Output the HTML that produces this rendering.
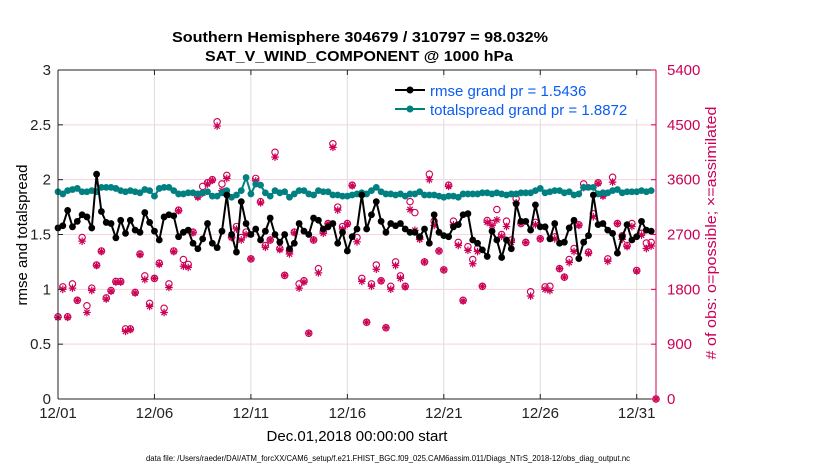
<!DOCTYPE html>
<html><head><meta charset="utf-8"><style>
html,body{margin:0;padding:0;background:#fff;}
svg{display:block;font-family:"Liberation Sans",sans-serif;}
</style></head><body>
<svg id="chart" width="830" height="470" viewBox="0 0 830 470">
  <text x="360" y="42" text-anchor="middle" font-size="15" font-weight="bold" textLength="376" lengthAdjust="spacingAndGlyphs">Southern Hemisphere 304679 / 310797 = 98.032%</text>
  <text x="359" y="61" text-anchor="middle" font-size="15" font-weight="bold" textLength="308" lengthAdjust="spacingAndGlyphs">SAT_V_WIND_COMPONENT @ 1000 hPa</text>
  <g id="grid"></g>
  <g id="marks"></g>
  <g id="axes"></g>
  <text transform="translate(27,235) rotate(-90)" text-anchor="middle" font-size="15">rmse and totalspread</text>
  <text transform="translate(716,233) rotate(-90)" text-anchor="middle" font-size="15" fill="#cc0055" textLength="253" lengthAdjust="spacingAndGlyphs"># of obs: o=possible; ×=assimilated</text>
  <text x="357" y="441" text-anchor="middle" font-size="15">Dec.01,2018 00:00:00 start</text>
  <text x="146" y="461" text-anchor="start" font-size="8.5" textLength="484" lengthAdjust="spacingAndGlyphs">data file: /Users/raeder/DAI/ATM_forcXX/CAM6_setup/f.e21.FHIST_BGC.f09_025.CAM6assim.011/Diags_NTrS_2018-12/obs_diag_output.nc</text>
  <g>
    <rect x="390" y="78" width="263" height="41" fill="#fff"/>
    <g>
      <line x1="395" y1="90" x2="425" y2="90" stroke="#000" stroke-width="2"/>
      <circle cx="410" cy="90" r="3.5" fill="#000"/>
      <text x="430" y="96" font-size="15" fill="#0a5cf5">rmse grand pr = 1.5436</text>
    </g>
    <g>
      <line x1="395" y1="109" x2="425" y2="109" stroke="#008080" stroke-width="2"/>
      <circle cx="410" cy="109" r="3.5" fill="#008080"/>
      <text x="430" y="115" font-size="15" fill="#0a5cf5">totalspread grand pr = 1.8872</text>
    </g>
  </g>
</svg>
<script>
const rmse=[1.56,1.58,1.72,1.57,1.62,1.68,1.66,1.56,2.05,1.71,1.61,1.60,1.47,1.63,1.51,1.63,1.54,1.52,1.70,1.61,1.53,1.45,1.66,1.68,1.67,1.48,1.52,1.54,1.42,1.37,1.46,1.60,1.42,1.38,1.53,1.86,1.50,1.34,1.80,1.60,1.50,1.55,1.45,1.53,1.65,1.50,1.43,1.50,1.37,1.42,1.60,1.53,1.50,1.65,1.63,1.55,1.57,1.60,1.42,1.52,1.35,1.48,1.55,1.86,1.55,1.68,1.80,1.62,1.52,1.60,1.58,1.60,1.55,1.52,1.52,1.48,1.55,1.42,1.68,1.52,1.49,1.48,1.57,1.59,1.68,1.69,1.45,1.42,1.36,1.30,1.53,1.45,1.29,1.45,1.37,1.78,1.62,1.62,1.54,1.77,1.57,1.57,1.46,1.60,1.42,1.43,1.56,1.63,1.28,1.43,1.49,1.86,1.59,1.60,1.54,1.51,1.33,1.48,1.59,1.45,1.48,1.62,1.54,1.53];
const spread=[1.89,1.87,1.90,1.91,1.92,1.89,1.89,1.90,1.89,1.93,1.93,1.93,1.92,1.90,1.89,1.90,1.89,1.88,1.91,1.90,1.85,1.92,1.93,1.93,1.90,1.87,1.87,1.88,1.88,1.87,1.88,1.89,1.85,1.85,1.88,1.90,1.84,1.86,1.90,2.02,1.87,1.96,1.95,1.88,1.85,1.90,1.88,1.89,1.84,1.87,1.90,1.90,1.87,1.86,1.90,1.89,1.89,1.86,1.86,1.85,1.85,1.86,1.87,1.88,1.87,1.90,1.93,1.89,1.87,1.87,1.86,1.87,1.85,1.87,1.87,1.89,1.86,1.86,1.86,1.85,1.84,1.85,1.85,1.84,1.87,1.87,1.87,1.87,1.88,1.88,1.87,1.88,1.87,1.86,1.87,1.87,1.88,1.88,1.88,1.90,1.92,1.88,1.89,1.90,1.90,1.88,1.89,1.86,1.87,1.93,1.93,1.93,1.87,1.88,1.88,1.90,1.91,1.88,1.89,1.89,1.89,1.90,1.89,1.90];
const obsPossible=[1350,1840,1350,1890,1620,2650,1530,1820,2200,2430,1660,1780,1930,1930,1150,1150,1750,2380,2020,1570,1980,2230,1490,1890,2430,3100,2290,2210,2740,3330,3490,3550,3600,4550,3530,3670,2660,2830,2650,2740,2300,3620,3240,2520,2610,4050,2470,2030,2430,2740,1890,1940,1080,2610,2140,2750,2880,4190,3150,2830,2880,3510,2650,1980,1260,1890,2200,1940,1170,1850,2250,2020,1850,3240,3060,2650,2250,3690,2920,2430,2120,3510,2920,2570,1620,2500,2290,2470,1850,2930,2880,3110,2700,2920,2610,3290,2880,2570,1760,2900,2630,1840,1850,2660,2140,2000,2290,2470,2860,3530,2410,3040,3550,3350,2300,3640,2880,2680,2520,2880,2110,2720,2560,2570,0];
const obsAssim=[1340,1800,1340,1820,1620,2590,1420,1780,2190,2420,1640,1770,1920,1920,1110,1140,1740,2370,1960,1520,1980,2210,1420,1830,2420,3090,2180,2160,2730,3310,3380,3530,3590,4480,3420,3620,2650,2790,2610,2700,2300,3580,3220,2490,2610,3970,2450,2030,2380,2730,1820,1920,1080,2610,2070,2720,2880,4130,3100,2790,2870,3500,2580,1930,1260,1850,2130,1940,1170,1800,2190,1980,1840,3110,2770,2620,2250,3600,2850,2430,2120,3490,2860,2520,1610,2440,2220,2420,1850,2900,2850,2940,2670,2830,2570,3220,2880,2570,1690,2860,2630,1800,1780,2630,2140,2000,2240,2420,2850,3470,2390,2990,3540,3330,2260,3560,2880,2620,2500,2830,2100,2690,2470,2510,0];
const xTickDays=[0,5,10,15,20,25,30];
const xTickLabels=["12/01","12/06","12/11","12/16","12/21","12/26","12/31"];
const yLeftTicks=[0,0.5,1,1.5,2,2.5,3];
const yRightTicks=[0,900,1800,2700,3600,4500,5400];

const NS="http://www.w3.org/2000/svg";
const L=58,R=656,T=70,B=399,DAYS=31;
const x=d=>L+(d/DAYS)*(R-L);
const yL=v=>B-(v/3)*(B-T);
const yR=v=>B-(v/5400)*(B-T);
const dayOf=i=>i*0.25;
function mk(tag,attrs,parent){const e=document.createElementNS(NS,tag);for(const k in attrs)e.setAttribute(k,attrs[k]);parent.appendChild(e);return e;}
const grid=document.getElementById('grid'),marks=document.getElementById('marks'),axes=document.getElementById('axes');

xTickDays.forEach((d,i)=>{
  const g=mk('line',{x1:x(d),x2:x(d),y1:T,y2:B,stroke:'#dcdcdc','stroke-width':1},grid);
  
  
});
yLeftTicks.forEach(v=>{
  const g=mk('line',{x1:L,x2:R,y1:yL(v),y2:yL(v),stroke:'#f5d3df','stroke-width':1},grid);
  
  
});

function star(cx,cy,s,col,parent){
  const d=`M${cx-s},${cy}H${cx+s}M${cx},${cy-s}V${cy+s}M${cx-s*0.7},${cy-s*0.7}L${cx+s*0.7},${cy+s*0.7}M${cx-s*0.7},${cy+s*0.7}L${cx+s*0.7},${cy-s*0.7}`;
  return mk('path',{d:d,stroke:col,'stroke-width':1.2,fill:'none'},parent);
}

const obsG=mk('g',{},marks);


obsPossible.forEach((v,i)=>{
  const c=mk('circle',{cx:x(dayOf(i)),cy:yR(v),r:3.2,fill:'none',stroke:'#cc0055','stroke-width':1.1},obsG);
  
  
});
obsAssim.forEach((v,i)=>{
  const s=star(x(dayOf(i)),yR(v),3.8,'#cc0055',obsG);
  
  
});

function series(arr,col,name){
  const g=mk('g',{},marks);
  
  
  const pts=arr.map((v,i)=>x(dayOf(i)).toFixed(1)+','+yL(v).toFixed(1)).join(' ');
  const pl=mk('polyline',{points:pts,fill:'none',stroke:col,'stroke-width':2},g);
  
  
  arr.forEach((v,i)=>{
    const c=mk('circle',{cx:x(dayOf(i)),cy:yL(v),r:3.4,fill:col},g);
    
    
  });
}
series(spread,'#008080','totalspread');
series(rmse,'#000000','rmse');

let a;
a=mk('line',{x1:L,x2:R,y1:T,y2:T,stroke:'#222','stroke-width':1},axes);

a=mk('line',{x1:L,x2:R,y1:B,y2:B,stroke:'#222','stroke-width':1},axes);

a=mk('line',{x1:L,x2:L,y1:T,y2:B,stroke:'#222','stroke-width':1},axes);

a=mk('line',{x1:R,x2:R,y1:T,y2:B,stroke:'#cc0055','stroke-width':1},axes);


xTickDays.forEach((d,i)=>{
  mk('line',{x1:x(d),x2:x(d),y1:B,y2:B-5,stroke:'#222'},axes);
  mk('line',{x1:x(d),x2:x(d),y1:T,y2:T+5,stroke:'#222'},axes);
  const t=mk('text',{x:x(d),y:B+19,'text-anchor':'middle','font-size':15,fill:'#222'},axes);
  t.textContent=xTickLabels[i];
  
  
});
yLeftTicks.forEach(v=>{
  mk('line',{x1:L,x2:L+5,y1:yL(v),y2:yL(v),stroke:'#222'},axes);
  const t=mk('text',{x:L-7,y:yL(v)+5,'text-anchor':'end','font-size':15,fill:'#222'},axes);
  t.textContent=String(v);
  
  
});
yRightTicks.forEach(v=>{
  mk('line',{x1:R-5,x2:R,y1:yR(v),y2:yR(v),stroke:'#cc0055'},axes);
  const t=mk('text',{x:R+11,y:yR(v)+5,'text-anchor':'start','font-size':15,fill:'#cc0055'},axes);
  t.textContent=String(v);
  
  
});
</script>
</body></html>
